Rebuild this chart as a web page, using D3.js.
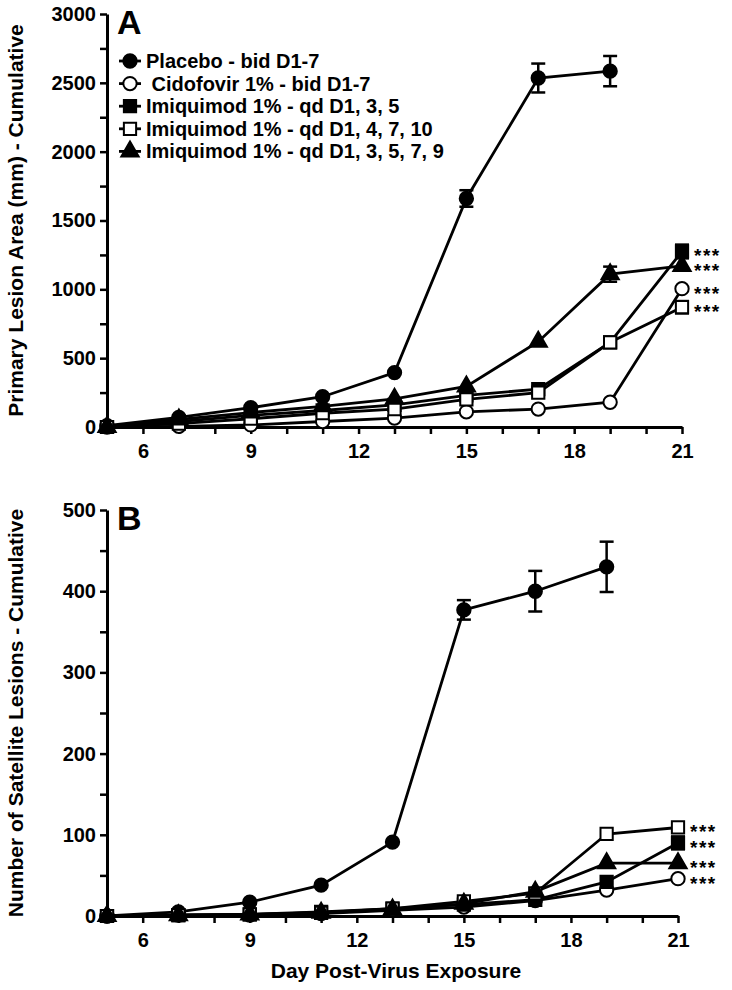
<!DOCTYPE html>
<html><head><meta charset="utf-8">
<script src="https://cdn.jsdelivr.net/npm/d3@7"></script>
<style>
body{margin:0;background:#fff;}
text{font-family:"Liberation Sans",Arial,sans-serif;font-weight:bold;fill:#000;}
</style></head>
<body><svg id="c" width="732" height="990"></svg>
<script>
const days = [5,7,9,11,13,15,17,19,21];
const seriesNames = ["Placebo - bid D1-7"," Cidofovir 1% - bid D1-7","Imiquimod 1% - qd D1, 3, 5","Imiquimod 1% - qd D1, 4, 7, 10","Imiquimod 1% - qd D1, 3, 5, 7, 9"];
const shapes = ["circle","circle","square","square","triangle"];
const filled = [true,false,true,false,true];

// Panel A: Primary lesion area (cumulative)
const areaPlacebo   = [10,70,140,220,395,1660,2535,2585];
const areaCidofovir = [0,5,15,40,65,110,130,180,1005];
const areaImq135    = [0,40,85,120,160,230,275,615,1275];
const areaImq14710  = [0,25,60,100,130,200,250,615,870];
const areaImq13579  = [0,55,105,150,205,295,620,1110,1170];
const areaErrors = [[0,15,60],[0,17,105],[0,19,110],[2,21,50],[3,21,45],[4,19,55]];
const areaStars = [2,4,1,3];

// Panel B: number of satellite lesions (cumulative)
const satPlacebo   = [0,5,17,38,91,377,400,430];
const satCidofovir = [0,1,1,3,7,11,19,32,46];
const satImq135    = [0,1,2,5,9,14,20,42,90];
const satImq14710  = [0,1,2,4,9,18,28,101,109];
const satImq13579  = [0,1,2,4,8,15,30,65,65];
const satErrors = [[0,15,12],[0,17,25],[0,19,31],[2,21,8]];
const satStars = [3,2,4,1];

const yTicksA = [0,500,1000,1500,2000,2500,3000];
const yMinorA = d3.range(0,3001,250);
const yTicksB = [0,100,200,300,400,500];
const yMinorB = d3.range(0,501,50);
const xTicks = [6,9,12,15,18,21];
const xMinor = d3.range(6,22,1);

const svg = d3.select("#c");
const sym = {circle:d3.symbolCircle, square:d3.symbolSquare, triangle:d3.symbolTriangle};
const symSize = {circle:140, square:150, triangle:130};

function drawPanel(cfg){
  const g = svg.append("g");
  const x = d3.scaleLinear().domain([5,21]).range([cfg.x0,cfg.x1]);
  const y = d3.scaleLinear().domain(cfg.ydom).range([cfg.y0,cfg.y1]);
  const ax = g.append("g").attr("transform",`translate(0,${cfg.y0})`)
    .call(d3.axisBottom(x).tickValues(xMinor).tickSize(7).tickSizeOuter(0).tickFormat(d=>xTicks.includes(d)?d:""));
  const ay = g.append("g").attr("transform",`translate(${cfg.x0},0)`)
    .call(d3.axisLeft(y).tickValues(cfg.minor).tickSize(7).tickSizeOuter(0).tickFormat(d=>cfg.major.includes(d)?d:""));
  [ax,ay].forEach(a=>{
    a.select(".domain").attr("stroke","#000").attr("stroke-width",3);
    a.selectAll(".tick line").attr("stroke","#000").attr("stroke-width",2.5);
    a.selectAll(".tick text").style("font-size","20px").style("font-weight","bold").attr("fill","#000");
  });
  ax.selectAll(".tick text").attr("dy","1.05em");
  ay.selectAll(".tick text").attr("dx","-1px");
  const line = d3.line().x((d,i)=>x(days[i])).y(d=>y(d));
  cfg.data.forEach((vals)=>{
    g.append("path").attr("d",line(vals)).attr("fill","none").attr("stroke","#000").attr("stroke-width",2.8);
  });
  cfg.errors.forEach(([s,d,e])=>{
    const v = cfg.data[s][days.indexOf(d)];
    const xx = x(d);
    g.append("line").attr("x1",xx).attr("x2",xx).attr("y1",y(v-e)).attr("y2",y(v+e)).attr("stroke","#000").attr("stroke-width",2.5);
    [v-e,v+e].forEach(t=>g.append("line").attr("x1",xx-7).attr("x2",xx+7).attr("y1",y(t)).attr("y2",y(t)).attr("stroke","#000").attr("stroke-width",2.5));
  });
  cfg.data.forEach((vals,si)=>{
    g.selectAll(null).data(vals).enter().append("path")
      .attr("d",d3.symbol().type(sym[shapes[si]]).size(symSize[shapes[si]]))
      .attr("transform",(d,i)=>`translate(${x(days[i])},${y(d)})`)
      .attr("fill",filled[si]?"#000":"#fff").attr("stroke","#000").attr("stroke-width",2);
  });
  cfg.stars.forEach(si=>{
    const v = cfg.data[si][days.length-1];
    g.append("text").attr("x",cfg.x1+12).attr("y",y(v)+11).style("font-size","19px").style("letter-spacing","1.5px").text("***");
  });
  g.append("text").attr("x",cfg.x0+10).attr("y",cfg.y1+20).style("font-size","34px").text(cfg.letter);
  g.append("text").attr("transform",`translate(23,${(cfg.y0+cfg.y1)/2}) rotate(-90)`).attr("text-anchor","middle")
    .style("font-size","21px").text(cfg.ytitle);
  return {x,y};
}

drawPanel({x0:107,x1:682,y0:427,y1:14,ydom:[0,3000],major:yTicksA,minor:yMinorA,
  data:[areaPlacebo,areaCidofovir,areaImq135,areaImq14710,areaImq13579],errors:areaErrors,stars:areaStars,
  letter:"A",ytitle:"Primary Lesion Area (mm) - Cumulative"});
drawPanel({x0:107,x1:678,y0:916,y1:510,ydom:[0,500],major:yTicksB,minor:yMinorB,
  data:[satPlacebo,satCidofovir,satImq135,satImq14710,satImq13579],errors:satErrors,stars:satStars,
  letter:"B",ytitle:"Number of Satellite Lesions - Cumulative"});

svg.append("text").attr("x",396).attr("y",978).attr("text-anchor","middle").style("font-size","21px").text("Day Post-Virus Exposure");

const lg = svg.append("g");
seriesNames.forEach((n,i)=>{
  const yy = 61 + i*22.6;
  lg.append("line").attr("x1",119).attr("x2",141).attr("y1",yy).attr("y2",yy).attr("stroke","#000").attr("stroke-width",2.8);
  lg.append("path").attr("d",d3.symbol().type(sym[shapes[i]]).size(symSize[shapes[i]])())
    .attr("transform",`translate(130,${yy})`).attr("fill",filled[i]?"#000":"#fff").attr("stroke","#000").attr("stroke-width",2);
  lg.append("text").attr("x",146).attr("y",yy+7).style("font-size","20px").attr("xml:space","preserve").style("white-space","pre").text(n);
});
</script></body></html>
